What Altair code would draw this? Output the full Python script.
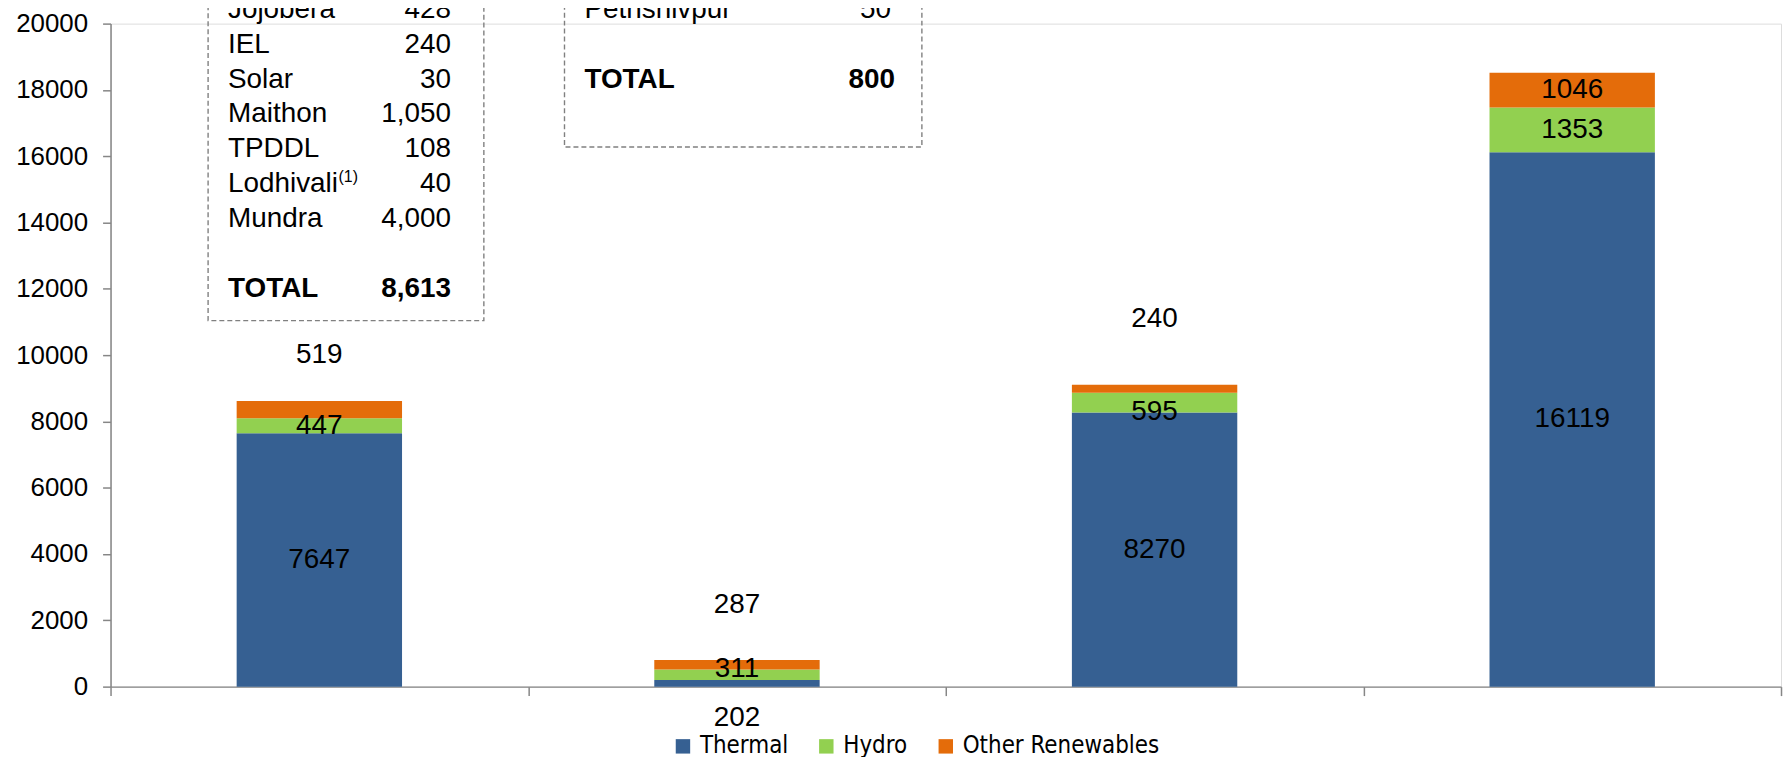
import altair as alt
import pandas as pd

# ---------------- data ----------------
categories = ["Operational", "Under Construction", "Pipeline", "Total"]
series = ["Thermal", "Hydro", "Other Renewables"]
thermal = [7647, 202, 8270, 16119]
hydro = [447, 311, 595, 1353]
other = [519, 287, 240, 1046]
colors = ["#366092", "#92D050", "#E46C0A"]

table1_names = ["Jojobera", "IEL", "Solar", "Maithon", "TPDDL", "Lodhivali", "Mundra"]
table1_values = ["428", "240", "30", "1,050", "108", "40", "4,000"]
table1_total = "8,613"
table2_names = ["Pethshivpur"]
table2_values = ["50"]
table2_total = "800"

# ---------------- layout (pixels) ----------------
W, H = 1678, 666
YMAX = 20000
# label nudges in px (positive = down), per series per category
thermal_dy = [0, 35, 0, 0]
hydro_dy = [0, -6, 9, 0]
other_dy = [-55, -60, -70, 0]

ROW_STEP = 35
T1_TOP = -13.7
T2_TOP = -13.7


def px_to_val(py):
    return (H - py) * YMAX / H


rows = []
for s_i, (s, vals, dys) in enumerate(zip(series, [thermal, hydro, other], [thermal_dy, hydro_dy, other_dy])):
    for c, v, d in zip(categories, vals, dys):
        rows.append({"category": c, "series": s, "value": v, "order": s_i, "dy": d})
df = pd.DataFrame(rows)

x_enc = alt.X("category:N", sort=categories,
              scale=alt.Scale(paddingInner=0, paddingOuter=0),
              axis=alt.Axis(labels=False, title=None, tickBand="extent", domainColor="#868686",
                            tickColor="#868686", tickSize=9, grid=False, domainWidth=1.5, tickWidth=1.5))
y_scale = alt.Scale(domain=[0, YMAX], nice=False)

bars = alt.Chart(df).mark_bar(width=alt.RelativeBandSize(0.396)).encode(
    x=x_enc,
    y=alt.Y("value:Q", stack="zero", scale=y_scale,
            axis=alt.Axis(values=list(range(0, YMAX + 1, 2000)), format="d", title=None, grid=False,
                          labelFontSize=26, labelFont="Liberation Sans", labelColor="black",
                          domainColor="#868686", tickColor="#868686", tickSize=8, labelPadding=15,
                          domainWidth=1.5, tickWidth=1.5)),
    color=alt.Color("series:N", scale=alt.Scale(domain=series, range=colors),
                    legend=alt.Legend(orient="none", legendX=563, legendY=714, direction="horizontal",
                                      title=None, symbolType="square", symbolSize=210, symbolStrokeWidth=0,
                                      labelFontSize=24, labelFont="DejaVu Sans Condensed", labelColor="black",
                                      columnPadding=26, labelOffset=5, labelLimit=0)),
    order=alt.Order("order:Q", sort="ascending"),
)

labels = alt.Chart(df).transform_stack(
    stack="value", groupby=["category"], as_=["y0", "y1"],
    sort=[alt.SortField("order", order="ascending")]
).transform_calculate(
    ly=f"(datum.y0 + datum.y1) / 2 - datum.dy * {YMAX} / {H}"
).mark_text(fontSize=28, font="Liberation Sans", color="black", baseline="middle").encode(
    x=alt.X("category:N", sort=categories),
    y=alt.Y("ly:Q"),
    text=alt.Text("value:Q", format="d"),
)

# ---------------- text boxes ----------------
box_df = pd.DataFrame({"k": [0]})
box1 = alt.Chart(box_df).mark_rect(filled=False, stroke="#808080", strokeWidth=1.4, strokeDash=[5, 3]).encode(
    x=alt.value(98), x2=alt.value(375), y=alt.value(-60), y2=alt.value(298.3))
box2 = alt.Chart(box_df).mark_rect(filled=False, stroke="#808080", strokeWidth=1.4, strokeDash=[5, 3]).encode(
    x=alt.value(456), x2=alt.value(815), y=alt.value(-60), y2=alt.value(124))

t1 = pd.DataFrame({
    "name": table1_names,
    "val": table1_values,
    "ty": [px_to_val(T1_TOP + i * ROW_STEP) for i in range(len(table1_names))],
})
t1_total = pd.DataFrame({"name": ["TOTAL"], "val": [table1_total],
                         "ty": [px_to_val(T1_TOP + (len(table1_names) + 1) * ROW_STEP)]})
t2 = pd.DataFrame({
    "name": table2_names,
    "val": table2_values,
    "ty": [px_to_val(T2_TOP + i * ROW_STEP) for i in range(len(table2_names))],
})
t2_total = pd.DataFrame({"name": ["TOTAL"], "val": [table2_total],
                         "ty": [px_to_val(T2_TOP + (len(table2_names) + 1) * ROW_STEP)]})
sup_df = pd.DataFrame({"s": ["(1)"], "ty": [px_to_val(T1_TOP + table1_names.index("Lodhivali") * ROW_STEP - 7)]})


def txt(data, field, xpx, align, weight="normal", size=28):
    return alt.Chart(data).mark_text(align=align, baseline="middle", fontSize=size, font="Liberation Sans",
                                     fontWeight=weight, color="black").encode(
        x=alt.value(xpx), y=alt.Y("ty:Q"), text=alt.Text(f"{field}:N"))


table_layers = [
    txt(t1, "name", 118, "left"), txt(t1, "val", 342, "right"),
    txt(t1_total, "name", 118, "left", "bold"), txt(t1_total, "val", 342, "right", "bold"),
    txt(t2, "name", 476, "left"), txt(t2, "val", 784, "right"),
    txt(t2_total, "name", 476, "left", "bold"), txt(t2_total, "val", 788, "right", "bold"),
    txt(sup_df, "s", 229, "left", size=16),
]

chart = alt.layer(box1, box2, bars, labels, *table_layers).properties(
    width=W, height=H,
    autosize=alt.AutoSizeParams(type="none"),
    padding={"left": 103, "top": 14, "right": 3, "bottom": 69},
).configure_view(stroke=None).configure(background="white")

chart.save("out.html", embed_options={"renderer": "svg", "actions": False})
